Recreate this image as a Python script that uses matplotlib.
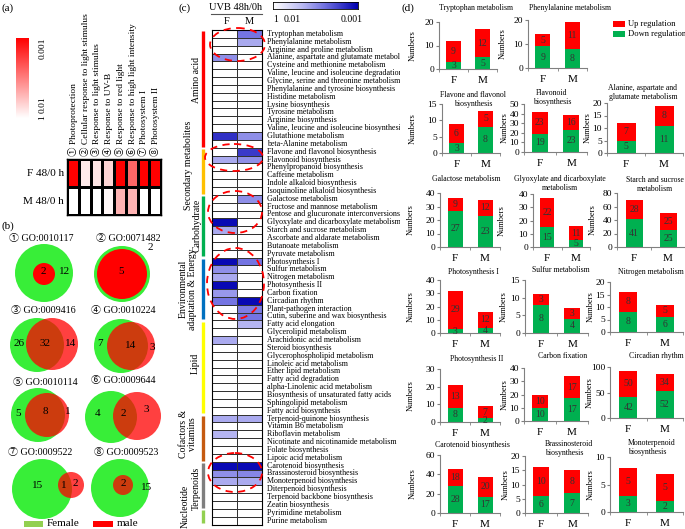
import numpy as np
import matplotlib
matplotlib.use('Agg')
import matplotlib.pyplot as plt
from matplotlib.colors import LinearSegmentedColormap
from matplotlib.patches import Circle, Ellipse, Rectangle
from matplotlib.transforms import Bbox, TransformedBbox, blended_transform_factory

plt.rcParams['font.family'] = ['Liberation Serif', 'Noto Sans CJK JP', 'DejaVu Sans']

W, H = 685, 529

# ---------------- data ----------------
# (a) GO terms, values are -log10(p)
go_terms = ['① Photoprotection', '② Cellular response to light stimulus',
            '③ Response to light stimulus', '④ Response to UV-B',
            '⑤ Response to red light', '⑥ Response to high light intensity',
            '⑦ Photosystem I', '⑧ Photosystem II']
go_rows = ['F 48/0 h', 'M 48/0 h']
go_F = [3.0, 0.25, 0.3, 0.5, 3.0, 1.8, 3.0, 3.0]
go_M = [0.0, 0.0, 0.0, 0.1, 0.9, 0.9, 0.0, 0.0]
go_cbar_labels = ['1', '0.01', '0.001']
go_cbar_vals = [0.0, 0.5, 3.0]

# (b) venn counts
venn_ids = ['① GO:0010117', '② GO:0071482', '③ GO:0009416', '④ GO:0010224',
            '⑤ GO:0010114', '⑥ GO:0009644', '⑦ GO:0009522', '⑧ GO:0009523']
venn_F_only = [12, 2, 26, 7, 5, 4, 15, 15]
venn_both = [2, 5, 32, 14, 8, 2, 1, 2]
venn_M_only = [0, 0, 14, 3, 1, 3, 2, 0]

# (c) KEGG pathways, values are -log10(p)
kegg_groups = ['Amino acid', 'Secondary metabolites', 'Carbohydrate',
               'Environmental\nadaptation & Energy', 'Lipid', 'Cofactors &\nvitamins',
               'Terpenoids', 'Nucleotide']
kegg_group_size = [15, 6, 8, 8, 12, 6, 6, 2]
kegg_paths = [
    'Tryptophan metabolism', 'Phenylalanine metabolism', 'Arginine and proline metabolism',
    'Alanine, aspartate and glutamate metabolism', 'Cysteine and methionine metabolism',
    'Valine, leucine and isoleucine degradation', 'Glycine, serine and threonine metabolism',
    'Phenylalanine and tyrosine biosynthesis', 'Histidine metabolism', 'Lysine biosynthesis',
    'Tyrosine metabolism', 'Arginine biosynthesis', 'Valine, leucine and isoleucine biosynthesis',
    'Glutathione metabolism', 'beta-Alanine metabolism',
    'Flavone and flavonol biosynthesis', 'Flavonoid biosynthesis', 'Phenylpropanoid biosynthesis',
    'Caffeine metabolism', 'Indole alkaloid biosynthesis', 'Isoquinoline alkaloid biosynthesis',
    'Galactose metabolism', 'Fructose and mannose metabolism', 'Pentose and glucuronate interconversions',
    'Glyoxylate and dicarboxylate metabolism', 'Starch and sucrose metabolism',
    'Ascorbate and aldarate metabolism', 'Butanoate metabolism', 'Pyruvate metabolism',
    'Photosynthesis I', 'Sulfur metabolism', 'Nitrogen metabolism', 'Photosynthesis II',
    'Carbon fixation', 'Circadian rhythm', 'Plant-pathogen interaction',
    'Cutin, suberine and wax biosynthesis',
    'Fatty acid elongation', 'Glycerolipid metabolism', 'Arachidonic acid metabolism',
    'Steroid biosynthesis', 'Glycerophospholipid metabolism', 'Linoleic acid metabolism',
    'Ether lipid metabolism', 'Fatty acid degradation', 'alpha-Linolenic acid metabolism',
    'Biosynthesis of unsaturated fatty acids', 'Sphingolipid metabolism', 'Fatty acid biosynthesis',
    'Terpenoid-quinone biosynthesis', 'Vitamin B6 metabolism', 'Riboflavin metabolism',
    'Nicotinate and nicotinamide metabolism', 'Folate biosynthesis', 'Lipoic acid metabolism',
    'Carotenoid biosynthesis', 'Brassinosteroid biosynthesis', 'Monoterpenoid biosynthesis',
    'Diterpenoid biosynthesis', 'Terpenoid backbone biosynthesis', 'Zeatin biosynthesis',
    'Pyrimidine metabolism', 'Purine metabolism']
kegg_F = [0, 0, 0, 1.5, 0, 0, 0, 0, 0, 0, 0, 0, 0, 2.5, 0,
          0, 1.2, 0, 0, 0, 0,
          0, 0, 0, 2.9, 1.2, 0, 0, 0,
          2.9, 1.5, 1.2, 2.9, 1.4, 1.8, 0, 0,
          0, 0, 1.2, 0, 0, 0, 0, 0, 0, 0, 0, 0,
          1.2, 0, 1.1, 0, 0, 0,
          2.9, 1.5, 1.2, 0, 0, 0,
          0, 0]
kegg_M = [1.8, 1.2, 0, 0, 0, 0, 0, 0, 0, 0, 0, 0, 0, 1.5, 0,
          2.4, 1.5, 0, 0, 0, 0,
          1.5, 0, 0, 0, 0, 0, 0, 0,
          1.8, 0, 0, 0, 0, 2.9, 1.7, 1.8,
          1.1, 0, 0, 0, 0, 0, 0, 0, 0, 0, 0, 0,
          1.2, 0, 0, 0, 0, 0,
          2.9, 1.6, 1.2, 0, 0, 0,
          0, 0]
kegg_cbar_labels = ['1', '0.01', '0.001']

# (d) DEG numbers
bar_titles = ['Tryptophan metabolism', 'Phenylalanine metabolism',
              'Flavone and flavonol\nbiosynthesis', 'Flavonoid\nbiosynthesis',
              'Alanine, aspartate and\nglutamate metabolism', 'Galactose metabolism',
              'Glyoxylate and dicarboxylate\nmetabolism', 'Starch and sucrose\nmetabolism',
              'Photosynthesis I', 'Sulfur metabolism', 'Nitrogen metabolism',
              'Photosynthesis II', 'Carbon fixation', 'Circadian rhythm',
              'Carotenoid biosynthesis', 'Brassinosteroid\nbiosynthesis',
              'Monoterpenoid\nbiosynthesis']
sexes = ['F', 'M']
down_F = [3, 9, 3, 19, 5, 27, 15, 41, 3, 8, 8, 8, 10, 42, 28, 6, 3]
up_F = [9, 5, 6, 23, 7, 9, 22, 28, 29, 3, 8, 13, 10, 50, 18, 10, 5]
down_M = [5, 8, 8, 23, 11, 23, 5, 25, 4, 4, 6, 2, 17, 52, 17, 7, 2]
up_M = [12, 11, 5, 16, 8, 12, 11, 25, 12, 3, 5, 7, 17, 34, 20, 8, 5]
y_max = [20, 20, 15, 50, 20, 40, 40, 80, 40, 15, 20, 30, 40, 100, 60, 20, 10]
y_step = [10, 10, 5, 10, 5, 10, 10, 20, 10, 5, 5, 10, 10, 50, 20, 5, 5]

# ---------------- layout (pixels) ----------------
venn_green = [(44, 273, 29), (122, 274, 28), (37, 345, 27), (121, 346, 27),
              (38, 415, 27), (111, 417, 26), (42, 489, 30), (120, 488, 29)]
venn_red = [(44, 274, 11), (122, 274, 25), (52, 344, 26), (131, 346, 24),
            (47, 415, 22), (137, 416, 24), (71, 485, 13), (123, 485, 10)]
venn_alpha = [1, 1, 0.75, 0.75, 0.75, 0.75, 0.75, 0.75]
venn_title_xy = [(41, 238), (128, 238), (43, 310), (123, 310),
                 (45, 383), (123, 381), (40, 452), (126, 452)]
venn_lab_F = [(65, 272), (150, 248), (19, 343), (100, 343), (18, 414), (98, 414), (38, 486), (147, 487)]
venn_lab_B = [(43, 272), (121, 272), (45, 343), (131, 346), (45, 412), (123, 414), (64, 486), (123, 484)]
venn_lab_M = [None, None, (71, 343), (152, 347), (68, 412), (146, 410), (75, 484), None]

group_colors = ['#ff0000', '#ffc000', '#00b050', '#0070c0', '#ffff00', '#c55a11', '#7f7f7f', '#92d050']
group_label_xy = [(197, 80), (189, 165), (197, 225), (188, 289), (195, 363), (188, 434), (196, 488), (185, 506)]
ellipses = [(237.5, 44.5, 55, 33), (234, 157.5, 58, 27), (235, 212, 54, 42),
            (235.5, 283.5, 57, 71), (235, 472.5, 54, 39)]

bar_box = [(439, 497, 22, 69), (528, 587, 20, 68),
           (442, 500, 104, 153), (524, 587, 104, 152), (607, 683, 103, 153),
           (440, 500, 193, 247), (533, 590, 194, 247), (617, 685, 193, 247),
           (440, 500, 280, 333), (525, 588, 280, 333), (610, 683, 282, 332),
           (440, 500, 369, 422), (524, 588, 368, 421), (610, 683, 367, 418),
           (440, 500, 455, 513), (525, 588, 456, 513), (610, 683, 457, 512)]
title_xy = [(476, 8, 'center'), (570, 8, 'center'), (473, 95, 'center'), (552, 93, 'center'),
            (643, 88, 'center'), (466, 179, 'center'), (560, 179, 'center'), (655, 180, 'center'),
            (473, 272, 'center'), (561, 270, 'center'), (651, 272, 'center'),
            (477, 359, 'center'), (563, 356, 'center'), (656, 356, 'center'),
            (472, 445, 'center'), (545, 444, 'left'), (628, 443, 'left')]
ylab_off = [-22, -21, -25, -15, -15, -25, -27, -20, -25, -17, -15, -25, -15, -16, -23, -15, -15]


def px_rect(x0, y0, x1, y1):
    return [x0 / W, 1 - y1 / H, (x1 - x0) / W, (y1 - y0) / H]


fig = plt.figure(figsize=(W / 100, H / 100), dpi=100)
fig.patch.set_facecolor('white')

ov = fig.add_axes([0, 0, 1, 1], zorder=5)
ov.set_xlim(0, W)
ov.set_ylim(H, 0)
ov.axis('off')

for s, x, y in [('(a)', 2, 8), ('(b)', 2, 226), ('(c)', 179, 8), ('(d)', 402, 8)]:
    ov.text(x, y, s, fontsize=8, ha='left', va='center')

# ---------------- (a) ----------------
cmap_red = LinearSegmentedColormap.from_list('wr', ['#ffffff', '#ff0000'])
axa = fig.add_axes(px_rect(67, 159, 161, 215))
axa.pcolormesh(np.array([go_F, go_M]), cmap=cmap_red, vmin=0, vmax=3,
               edgecolors='black', linewidth=0.8)
axa.set_xlim(0, len(go_terms))
axa.set_ylim(2, 0)
axa.set_xticks([])
axa.set_yticks([])
for sp in axa.spines.values():
    sp.set_linewidth(1.0)
for i, t in enumerate(go_terms):
    axa.text(i + 0.5, -0.12, t, rotation=90, ha='center', va='bottom', fontsize=6.8)
for j, r in enumerate(go_rows):
    axa.text(-0.25, j + 0.5, r, ha='right', va='center', fontsize=8)

cax = fig.add_axes(px_rect(16, 38, 28, 118))
cax.imshow(np.linspace(0, 3, 256)[:, None], aspect='auto', cmap=cmap_red,
           origin='lower', extent=[0, 1, 0, 3])
cax.set_xticks([])
cax.set_yticks([])
for sp in cax.spines.values():
    sp.set_visible(False)
for lab, v in zip(go_cbar_labels, go_cbar_vals):
    cax.text(2.2, v, lab, rotation=90, ha='center', va='top' if v == 3 else 'center',
             fontsize=6.8, clip_on=False)

# ---------------- (b) ----------------
for k in range(len(venn_ids)):
    gx, gy, gr = venn_green[k]
    rx, ry, rr = venn_red[k]
    ov.add_patch(Circle((gx, gy), gr, fc='#38ee38', ec='none', zorder=1))
    ov.add_patch(Circle((rx, ry), rr, fc='#ff0000', ec='none', alpha=venn_alpha[k], zorder=2))
    tx, ty = venn_title_xy[k]
    ov.text(tx, ty, venn_ids[k], fontsize=7.2, ha='center', va='center')
    for pos, n in [(venn_lab_F[k], venn_F_only[k]), (venn_lab_B[k], venn_both[k]),
                   (venn_lab_M[k], venn_M_only[k])]:
        if pos is not None and n > 0:
            ov.text(pos[0], pos[1], str(n), fontsize=8, ha='center', va='center', zorder=3)

ov.add_patch(Rectangle((24, 521), 19, 6, fc='#92d050', ec='none'))
ov.text(47, 524, 'Female', fontsize=8, ha='left', va='center')
ov.add_patch(Rectangle((93, 521), 20, 6, fc='#ff0000', ec='none'))
ov.text(117, 524, 'male', fontsize=8, ha='left', va='center')

# ---------------- (c) ----------------
cmap_blue = LinearSegmentedColormap.from_list(
    'wb', [(0, '#ffffff'), (0.35, '#b8b8f2'), (0.6, '#7474e2'), (1, '#0000b0')])
n_rows = len(kegg_paths)
axc = fig.add_axes(px_rect(212, 30, 262, 524.5))
axc.pcolormesh(np.array([kegg_F, kegg_M]).T, cmap=cmap_blue, vmin=0, vmax=3,
               edgecolors='#333333', linewidth=0.5)
axc.set_xlim(0, 2)
axc.set_ylim(n_rows, 0)
axc.set_xticks([])
axc.set_yticks([])
for sp in axc.spines.values():
    sp.set_linewidth(0.8)

clipbox = TransformedBbox(Bbox.from_extents(0, 0, 400 / W, 1), fig.transFigure)
trc = blended_transform_factory(axc.transAxes, axc.transData)
for i, p in enumerate(kegg_paths):
    t = axc.text(1.1, i + 0.5, p, transform=trc, fontsize=5.8, ha='left', va='center')
    t.set_clip_path(None)
    t.set_clip_box(clipbox)
    t.set_clip_on(True)

start = 0
for g, n, c, (lx, ly) in zip(kegg_groups, kegg_group_size, group_colors, group_label_xy):
    axc.plot([-0.18, -0.18], [start + 0.15, start + n - 0.15], transform=trc, color=c,
             lw=2.4, solid_capstyle='butt', clip_on=False)
    ov.text(lx, ly, g, rotation=90, fontsize=7, ha='center', va='center', linespacing=1.1)
    start += n

for cx, cy, w, h in ellipses:
    ov.add_patch(Ellipse((cx, cy), w, h, fill=False, ec='#ff0000', lw=1.3,
                         ls=(0, (4, 3)), zorder=6))

ov.text(236, 7, 'UVB 48h/0h', fontsize=7.5, ha='center', va='center')
ov.plot([211, 262], [14, 14], color='#555555', lw=0.8)
ov.text(227, 21, sexes[0], fontsize=7.5, ha='center', va='center')
ov.text(249, 21, sexes[1], fontsize=7.5, ha='center', va='center')

cax2 = fig.add_axes(px_rect(273, 2, 358, 9))
cax2.imshow(np.linspace(0, 3, 256)[None, :], aspect='auto', cmap=cmap_blue, extent=[0, 1, 0, 1])
cax2.set_xticks([])
cax2.set_yticks([])
for sp in cax2.spines.values():
    sp.set_linewidth(0.6)
for lab, fx in zip(kegg_cbar_labels, [0.03, 0.22, 0.93]):
    cax2.text(fx, -1.45, lab, transform=cax2.transAxes, fontsize=7, ha='center', va='center')

# ---------------- (d) ----------------
for i in range(len(bar_titles)):
    xl, xr, yt, yb = bar_box[i]
    ax = fig.add_axes(px_rect(xl, yt, xr, yb))
    x = np.arange(2)
    dn = [down_F[i], down_M[i]]
    up = [up_F[i], up_M[i]]
    ax.bar(x, dn, width=0.5, color='#00b050')
    ax.bar(x, up, width=0.5, bottom=dn, color='#ff0000')
    for xi in x:
        ax.text(xi, dn[xi] / 2, str(dn[xi]), ha='center', va='center', fontsize=7, color='#333333')
        ax.text(xi, dn[xi] + up[xi] / 2, str(up[xi]), ha='center', va='center', fontsize=7, color='#333333')
    ax.set_xlim(-0.5, 1.5)
    ax.set_ylim(0, y_max[i])
    ax.set_yticks(np.arange(0, y_max[i] + 1, y_step[i]))
    ax.set_xticks(x)
    ax.set_xticklabels(sexes)
    ax.set_xticks([-0.5, 0.5, 1.5], minor=True)
    ax.tick_params(axis='x', which='major', length=0, pad=5, labelsize=8)
    ax.tick_params(axis='x', which='minor', length=2.5, color='#808080')
    ax.tick_params(axis='y', length=2.5, pad=1, labelsize=6.8, color='#808080')
    ax.spines['top'].set_visible(False)
    ax.spines['right'].set_visible(False)
    for s in ['left', 'bottom']:
        ax.spines[s].set_color('#808080')
        ax.spines[s].set_linewidth(0.8)
    ax.set_ylabel('Numbers', fontsize=6)
    ax.yaxis.set_label_coords(ylab_off[i] / (xr - xl), 0.5)
    tx, ty, ha = title_xy[i]
    ov.text(tx, ty - 4, bar_titles[i], fontsize=5.6, ha=ha, va='top',
            multialignment='center' if ha == 'center' else 'left', linespacing=1.15)

ov.add_patch(Rectangle((613, 21), 12, 6, fc='#ff0000', ec='none'))
ov.text(628, 24, 'Up regulation', fontsize=6.1, ha='left', va='center')
ov.add_patch(Rectangle((613, 31), 12, 6, fc='#00b050', ec='none'))
ov.text(628, 34, 'Down regulation', fontsize=6.1, ha='left', va='center')

fig.savefig('out.png', dpi=100)
